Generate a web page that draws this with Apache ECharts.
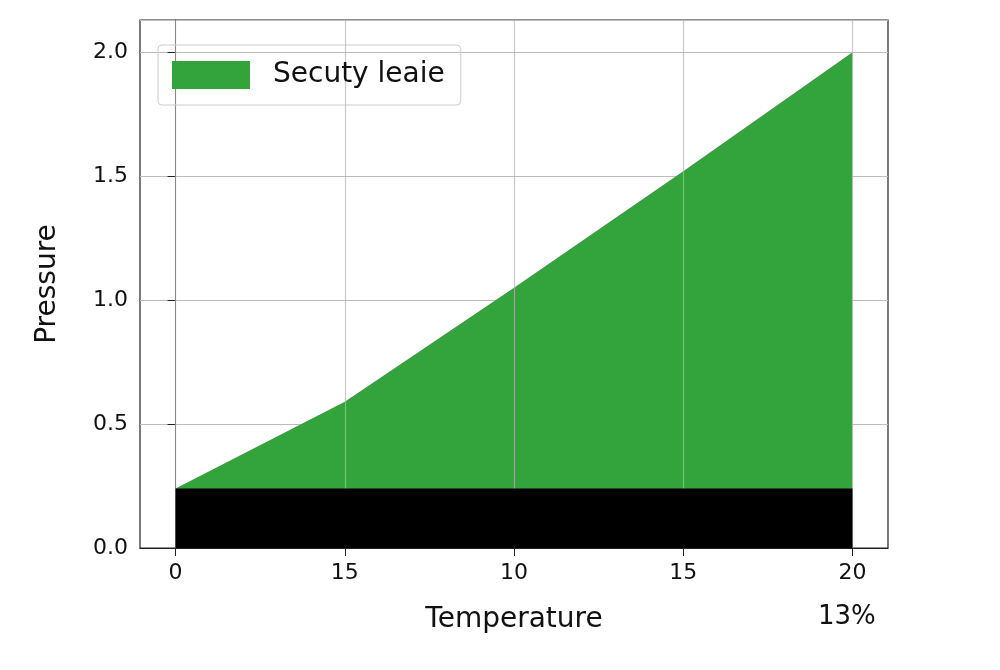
<!DOCTYPE html>
<html><head><meta charset="utf-8">
<script src="https://cdn.jsdelivr.net/npm/echarts@6/dist/echarts.min.js"></script>
<style>html,body{margin:0;background:#fff}#main{width:1000px;height:670px}</style>
</head><body><div id="main"></div>
<script>
var chartDom = document.getElementById('main');
var myChart = echarts.init(chartDom);

// x positions (index) and their printed labels
const xIdx = [0, 1, 2, 3, 4];
const xLabels = ['0', '15', '10', '15', '20'];
// top of green area
const greenTop = [0.24, 0.59, 1.05, 1.52, 2.0];
// black base band
const blackBase = [0.24, 0.24, 0.24, 0.24, 0.24];

const font = 'DejaVu Sans';

var option = {
  animation: false,
  grid: { left: 140, right: 112, top: 20, bottom: 122, show: true, borderColor: '#222', borderWidth: 1.2, backgroundColor: '#fff' },
  legend: {
    left: 158, top: 45, padding: [16, 16, 16, 14],
    itemWidth: 78, itemHeight: 28, itemGap: 10,
    borderColor: '#ccc', borderWidth: 1, borderRadius: 4,
    textStyle: { fontSize: 28, fontFamily: font, color: '#111', padding: [0, 0, 0, 18] },
    data: [{ name: 'Secuty leaie', icon: 'rect' }]
  },
  xAxis: {
    type: 'value', min: -0.21, max: 4.21,
    splitLine: { show: false },
    axisLine: { lineStyle: { color: '#222' } },
    axisTick: { customValues: xIdx, length: 8, lineStyle: { color: '#222' } },
    axisLabel: { customValues: xIdx, fontSize: 22, fontFamily: font, color: '#111', margin: 14,
      formatter: v => xLabels[Math.round(v)] },
    name: 'Temperature', nameLocation: 'middle', nameGap: 58,
    nameTextStyle: { fontSize: 28, fontFamily: font, color: '#111' }
  },
  yAxis: {
    type: 'value', min: 0, max: 2.13, interval: 0.5,
    axisLine: { show: true, lineStyle: { color: '#222' } },
    axisTick: { show: true, length: 8, lineStyle: { color: '#222' } },
    splitLine: { lineStyle: { color: '#bbb', width: 1.2 } },
    axisLabel: { fontSize: 22, fontFamily: font, color: '#111', margin: 12, formatter: v => v.toFixed(1),
      showMaxLabel: false },
    name: 'Pressure', nameLocation: 'middle', nameGap: 78,
    nameTextStyle: { fontSize: 28, fontFamily: font, color: '#111' }
  },
  graphic: [{ type: 'text', left: 818, top: 604, style: { text: '13%', fontSize: 26, fontFamily: font, fill: '#111' } }],
  series: [
    {
      name: 'Secuty leaie', type: 'line', symbol: 'none', z: 2,
      data: xIdx.map((x, i) => [x, greenTop[i]]),
      lineStyle: { width: 0 }, itemStyle: { color: '#33a33b' },
      areaStyle: { color: '#33a33b', opacity: 1 },
      markLine: {
        silent: true, symbol: 'none', label: { show: false }, z: 3,
        lineStyle: { color: 'rgba(180,180,180,0.7)', type: 'solid', width: 1.2 },
        data: xIdx.map(x => ({ xAxis: x }))
      }
    },
    {
      name: 'base', type: 'line', symbol: 'none', z: 4,
      data: xIdx.map((x, i) => [x, blackBase[i]]),
      lineStyle: { width: 0 }, itemStyle: { color: '#000' },
      areaStyle: { color: '#000', opacity: 1 }
    }
  ]
};
myChart.setOption(option);
</script></body></html>
